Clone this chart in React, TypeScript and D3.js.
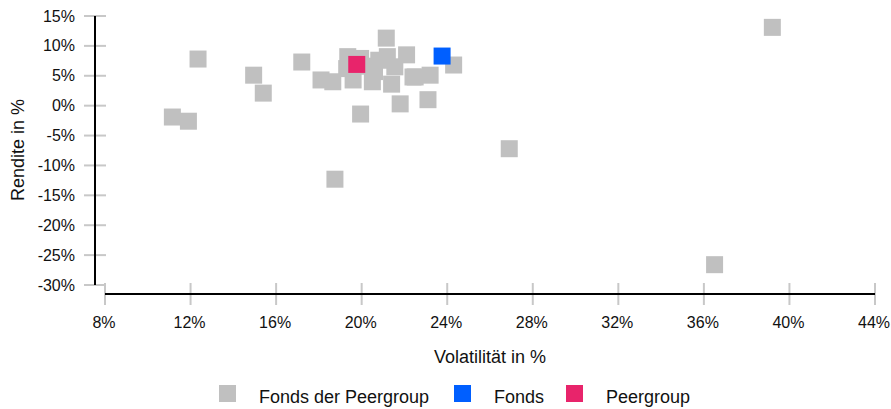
import { useEffect, useRef } from 'react';
import * as d3 from 'd3';

// Volatilität (x) und Rendite (y) in %
const peerVolatility = [
  11.15, 11.9, 12.35, 14.95, 15.4, 17.2, 18.1, 18.65, 18.75, 19.95, 21.15, 21.8, 23.1, 26.9, 36.5, 39.2,
  24.3, 22.4, 23.2, 21.4, 19.35, 19.95, 22.1, 21.2, 20.8, 21.55, 19.6, 20.5, 20.6, 22.5, 19.3, 20.2,
];
const peerReturn = [
  -1.9, -2.6, 7.8, 5.1, 2.1, 7.3, 4.3, 4.0, -12.3, -1.4, 11.3, 0.3, 1.0, -7.2, -26.6, 13.1,
  6.8, 4.8, 5.1, 3.6, 8.2, 7.9, 8.5, 8.2, 7.6, 6.5, 4.3, 4.0, 5.7, 4.8, 6.2, 6.6,
];
const fondsPoint = [23.76, 8.3];
const peergroupPoint = [19.77, 6.9];

const xTicks = [8, 12, 16, 20, 24, 28, 32, 36, 40, 44];
const yTicks = [15, 10, 5, 0, -5, -10, -15, -20, -25, -30];

const legendItems = [
  { label: 'Fonds der Peergroup', color: '#c0c0c0' },
  { label: 'Fonds', color: '#005fff' },
  { label: 'Peergroup', color: '#e8246b' },
];

export default function App() {
  const svgRef = useRef<SVGSVGElement>(null);

  useEffect(() => {
    if (!svgRef.current) return;
    const width = 891;
    const height = 409;
    const font = '"Liberation Sans", Arial, sans-serif';

    const svg = d3.select(svgRef.current);
    svg.selectAll('*').remove();
    svg.attr('width', width).attr('height', height);

    const x = d3.scaleLinear().domain([8, 44]).range([105, 875]);
    const y = d3.scaleLinear().domain([15, -30]).range([16, 285]);
    const size = 17;

    // y axis
    const yAxis = svg.append('g');
    yAxis
      .selectAll('line.tick')
      .data(yTicks)
      .join('line')
      .attr('x1', 84)
      .attr('x2', 106)
      .attr('y1', (d) => y(d))
      .attr('y2', (d) => y(d))
      .attr('stroke', '#c8c8c8')
      .attr('stroke-width', 2);
    yAxis
      .append('line')
      .attr('x1', 95)
      .attr('x2', 95)
      .attr('y1', y(15))
      .attr('y2', y(-30))
      .attr('stroke', '#000')
      .attr('stroke-width', 2);
    yAxis
      .selectAll('text')
      .data(yTicks)
      .join('text')
      .attr('x', 75)
      .attr('y', (d) => y(d))
      .attr('dy', '0.35em')
      .attr('text-anchor', 'end')
      .attr('fill', '#111')
      .style('font-family', font)
      .style('font-size', '16px')
      .text((d) => `${d}%`);

    // x axis
    const xAxis = svg.append('g');
    xAxis
      .selectAll('line.tick')
      .data(xTicks)
      .join('line')
      .attr('x1', (d) => x(d))
      .attr('x2', (d) => x(d))
      .attr('y1', 283)
      .attr('y2', 305)
      .attr('stroke', '#c8c8c8')
      .attr('stroke-width', 2);
    xAxis
      .append('line')
      .attr('x1', x(8))
      .attr('x2', x(44))
      .attr('y1', 294)
      .attr('y2', 294)
      .attr('stroke', '#000')
      .attr('stroke-width', 2);
    xAxis
      .selectAll('text')
      .data(xTicks)
      .join('text')
      .attr('x', (d) => x(d) - 1)
      .attr('y', 328)
      .attr('text-anchor', 'middle')
      .attr('fill', '#111')
      .style('font-family', font)
      .style('font-size', '16px')
      .text((d) => `${d}%`);

    // axis titles
    svg
      .append('text')
      .attr('x', 490)
      .attr('y', 363)
      .attr('text-anchor', 'middle')
      .attr('fill', '#111')
      .style('font-family', font)
      .style('font-size', '18px')
      .text('Volatilität in %');
    svg
      .append('text')
      .attr('transform', `translate(24,150) rotate(-90)`)
      .attr('text-anchor', 'middle')
      .attr('fill', '#111')
      .style('font-family', font)
      .style('font-size', '18px')
      .text('Rendite in %');

    // points
    const peers = peerVolatility.map((v, i) => [v, peerReturn[i]]);
    svg
      .append('g')
      .selectAll('rect')
      .data(peers)
      .join('rect')
      .attr('x', (d) => x(d[0]) - size / 2)
      .attr('y', (d) => y(d[1]) - size / 2)
      .attr('width', size)
      .attr('height', size)
      .attr('fill', '#c0c0c0');

    svg
      .append('rect')
      .attr('x', x(fondsPoint[0]) - size / 2)
      .attr('y', y(fondsPoint[1]) - size / 2)
      .attr('width', size)
      .attr('height', size)
      .attr('fill', legendItems[1].color);
    svg
      .append('rect')
      .attr('x', x(peergroupPoint[0]) - size / 2)
      .attr('y', y(peergroupPoint[1]) - size / 2)
      .attr('width', size)
      .attr('height', size)
      .attr('fill', legendItems[2].color);

    // legend
    const legendX = [219, 454, 566];
    const legend = svg
      .append('g')
      .selectAll('g')
      .data(legendItems)
      .join('g')
      .attr('transform', (_, i) => `translate(${legendX[i]},385)`);
    legend
      .append('rect')
      .attr('width', size)
      .attr('height', size)
      .attr('fill', (d) => d.color);
    legend
      .append('text')
      .attr('x', 40)
      .attr('y', 18)
      .attr('fill', '#111')
      .style('font-family', font)
      .style('font-size', '18px')
      .text((d) => d.label);
  }, []);

  return (
    <div style={{ position: 'fixed', left: 0, top: 0, width: 891, height: 409, background: '#fff' }}>
      <svg ref={svgRef} style={{ display: 'block' }} />
    </div>
  );
}
